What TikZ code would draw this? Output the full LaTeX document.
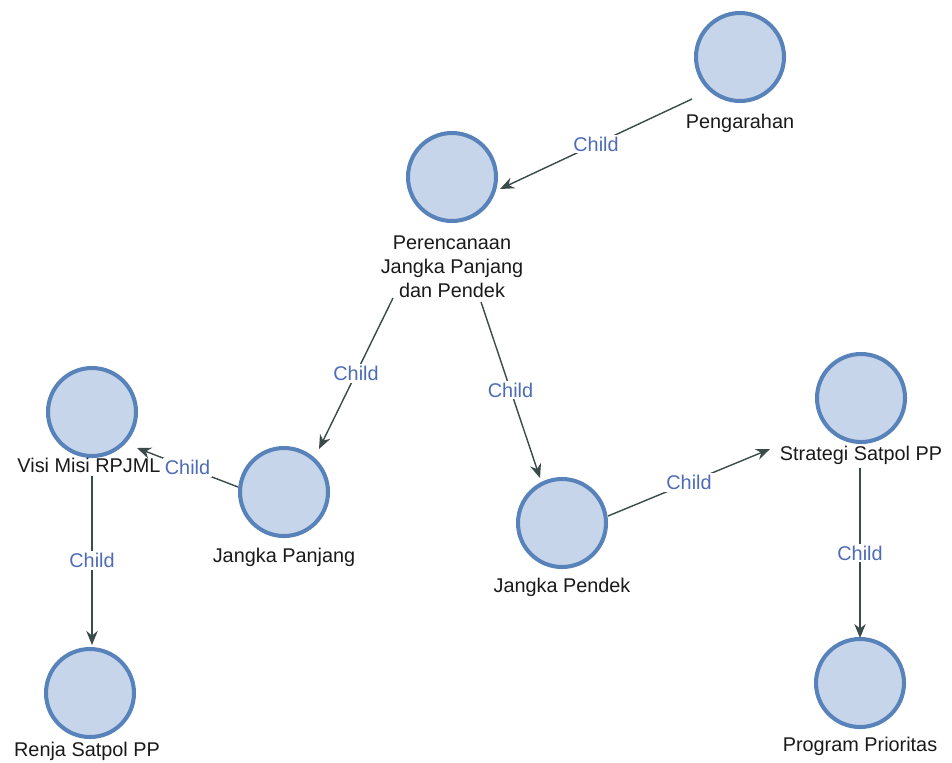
\documentclass[tikz,border=0pt]{standalone}
\usepackage{fontspec}
\setmainfont{Liberation Sans}
\usetikzlibrary{arrows.meta,calc}
\definecolor{nodefill}{HTML}{C6D5E9}
\definecolor{noderim}{HTML}{5783BA}
\definecolor{edgecol}{HTML}{3B4B49}
\definecolor{tagcol}{HTML}{4D6BB6}
\definecolor{txtcol}{HTML}{1A1A1A}
\begin{document}
\begin{tikzpicture}[x=0.02cm,y=-0.02cm,
  vertex/.style={circle,draw=noderim,fill=nodefill,line width=2.3pt,minimum size=88*0.02cm,inner sep=0pt},
  caption/.style={text=txtcol,font=\fontsize{11.3}{13.6}\selectfont,align=center,inner sep=0pt},
  link/.style={draw=edgecol,line width=0.8pt,-{Stealth[length=8pt,width=6.5pt]}},
  tag/.style={text=tagcol,font=\fontsize{11.3}{13}\selectfont,fill=white,inner sep=1.2pt}]
\path[use as bounding box,fill=white] (0,0) rectangle (952,762);

% vertices
\node[vertex] (pg) at (740,57) {};
\node[vertex] (pc) at (452,177) {};
\node[vertex] (vm) at (92,412) {};
\node[vertex] (jp) at (284,492) {};
\node[vertex] (jd) at (562,523) {};
\node[vertex] (sp) at (861,398) {};
\node[vertex] (rj) at (90,693) {};
\node[vertex] (pp) at (860,683) {};

% vertex captions
\node[caption] (pgt) at (740,123) {Pengarahan};
\node[caption] (pct) at (452,267) {Perencanaan\\Jangka Panjang\\dan Pendek};
\node[caption] (vmt) at (89,465) {Visi Misi RPJML};
\node[caption] (jpt) at (284,557) {Jangka Panjang};
\node[caption] (jdt) at (562,587) {Jangka Pendek};
\node[caption] (spt) at (861,455) {Strategi Satpol PP};
\node[caption] (rjt) at (87,751) {Renja Satpol PP};
\node[caption] (ppt) at (860,746) {Program Prioritas};

% child links
\draw[link] ($(pg)+(-48,42)$) -- node[tag] {Child} ($(pc)+(48,12)$);
\draw[link] ($(pc)+(-59,121)$) -- node[tag] {Child} ($(jp)+(35,-43)$);
\draw[link] ($(pc)+(29,125)$) -- node[tag] {Child} ($(jd)+(-22,-45)$);
\draw[link] ($(jp)+(-46,-5)$) -- node[tag] {Child} ($(vm)+(45,36)$);
\draw[link] ($(vm)+(0,64)$) -- node[tag] {Child} ($(rj)+(2,-48)$);
\draw[link] ($(jd)+(46,-7)$) -- node[tag] {Child} ($(sp)+(-91,51)$);
\draw[link] ($(sp)+(-1,70)$) -- node[tag] {Child} ($(pp)+(0,-45)$);
\end{tikzpicture}
\end{document}
